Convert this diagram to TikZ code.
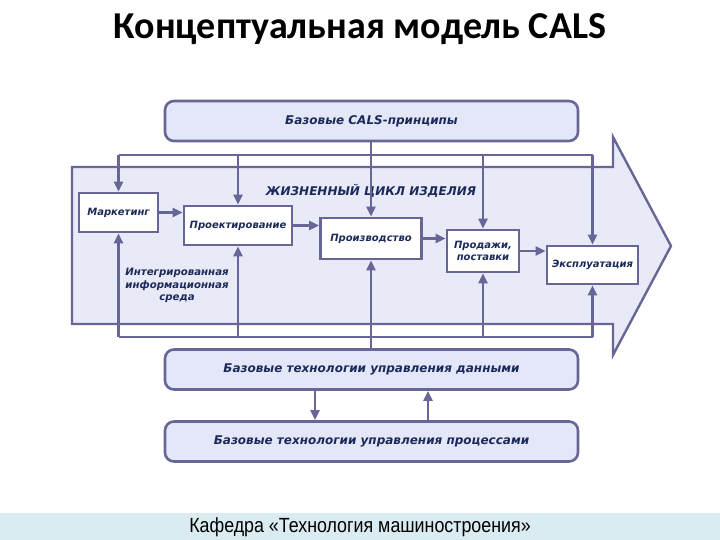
\documentclass[tikz,border=0pt]{standalone}
\usepackage{fontspec}
\setmainfont{DejaVu Sans}
\newfontfamily\titlefont{Carlito}
\newfontfamily\footfont{Liberation Sans}
\newfontfamily\boxfont{DejaVu Sans}
\usetikzlibrary{arrows.meta}
\definecolor{lnc}{RGB}{104,102,150}
\definecolor{boxfill}{RGB}{228,231,247}
\definecolor{arrfill}{RGB}{232,234,248}
\definecolor{txt}{RGB}{28,42,90}
\definecolor{footbg}{RGB}{218,236,241}
\begin{document}
\begin{tikzpicture}[x=1pt,y=-1pt,
  conn/.style={draw=lnc, line width=2.4pt},
  arr/.style={conn, -{Triangle[length=10pt,width=9pt]}},
  bigbox/.style={draw=lnc, line width=2.6pt, fill=boxfill, rounded corners=9pt,
    minimum width=413pt, minimum height=40pt, inner sep=0pt,
    font=\boxfont\bfseries\itshape\fontsize{12}{14}\selectfont, text=txt},
  procbox/.style={draw=lnc, line width=2.6pt, fill=white, inner sep=0pt, align=center,
    font=\boxfont\bfseries\itshape\fontsize{10}{12.5}\selectfont, text=txt},
  lbl/.style={inner sep=0pt, text=txt, font=\boxfont\bfseries\itshape\fontsize{10.2}{12.5}\selectfont}]
\useasboundingbox (0,0) rectangle (720,540);
\fill[footbg] (0,513) rectangle (720,540);
\node[anchor=base, inner sep=0pt, font=\titlefont\bfseries\fontsize{38}{42}\selectfont] (title) at (360,39) {Концептуальная модель CALS};
\node[font=\footfont\fontsize{20.5}{22}\selectfont, text=black] (foot) at (360,527) {\scalebox{0.87}[1]{Кафедра «Технология машиностроения»}};

% big arrow
\draw[draw=lnc, line width=2.4pt, fill=arrfill, line join=miter]
  (72,167) -- (613,167) -- (613,137) -- (671,246) -- (613,355) -- (613,324) -- (72,324) -- cycle;

% boxes
\node[bigbox] (cals) at (371.5,121) {Базовые CALS-принципы};
\node[bigbox] (data) at (371.5,369.5) {Базовые технологии управления данными};
\node[bigbox] (procs) at (371.5,441.5) {Базовые технологии управления процессами};

\node[procbox, minimum width=79pt, minimum height=39pt] (mark) at (118.5,212.5) {Маркетинг};
\node[procbox, minimum width=108pt, minimum height=39pt] (proj) at (238,225.5) {Проектирование};
\node[procbox, minimum width=101pt, minimum height=41pt] (prod) at (371,238.5) {Производство};
\node[procbox, minimum width=72pt, minimum height=42pt] (sales) at (483,251) {Продажи,\\поставки};
\node[procbox, minimum width=91pt, minimum height=38pt] (expl) at (592.5,265) {Эксплуатация};

\node[lbl, font=\boxfont\bfseries\itshape\fontsize{12}{14}\selectfont] (life) at (371,191) {ЖИЗНЕННЫЙ ЦИКЛ ИЗДЕЛИЯ};
\node[lbl, align=center] (env) at (177,285.5) {Интегрированная\\информационная\\среда};

% top distribution
\coordinate (tl) at (118.5,155);
\coordinate (tr) at (592.5,155);
\draw[conn] (tl) -- (tr);
\draw[arr] (tl) -- (mark.north);
\draw[arr] (tl -| proj.north) -- (proj.north);
\draw[arr] (cals.south -| prod.north) -- (prod.north);
\draw[arr] (tl -| sales.north) -- (sales.north);
\draw[arr] (tr) -- (expl.north);

% bottom distribution
\coordinate (bl) at (118.5,337);
\coordinate (br) at (592.5,337);
\draw[conn] (bl) -- (br);
\draw[arr] (bl) -- (mark.south);
\draw[arr] (bl -| proj.south) -- (proj.south);
\draw[arr] (data.north -| prod.south) -- (prod.south);
\draw[arr] (bl -| sales.south) -- (sales.south);
\draw[arr] (br) -- (expl.south);

% process chain
\draw[arr] (mark.east) -- (mark.east -| proj.west);
\draw[arr] (proj.east) -- (proj.east -| prod.west);
\draw[arr] (prod.east) -- (prod.east -| sales.west);
\draw[arr] (sales.east) -- (sales.east -| expl.west);

% data <-> processes
\coordinate (d1) at (315,0);
\coordinate (d2) at (428,0);
\draw[arr] (data.south -| d1) -- (procs.north -| d1);
\draw[arr] (procs.north -| d2) -- (data.south -| d2);
\end{tikzpicture}
\end{document}
